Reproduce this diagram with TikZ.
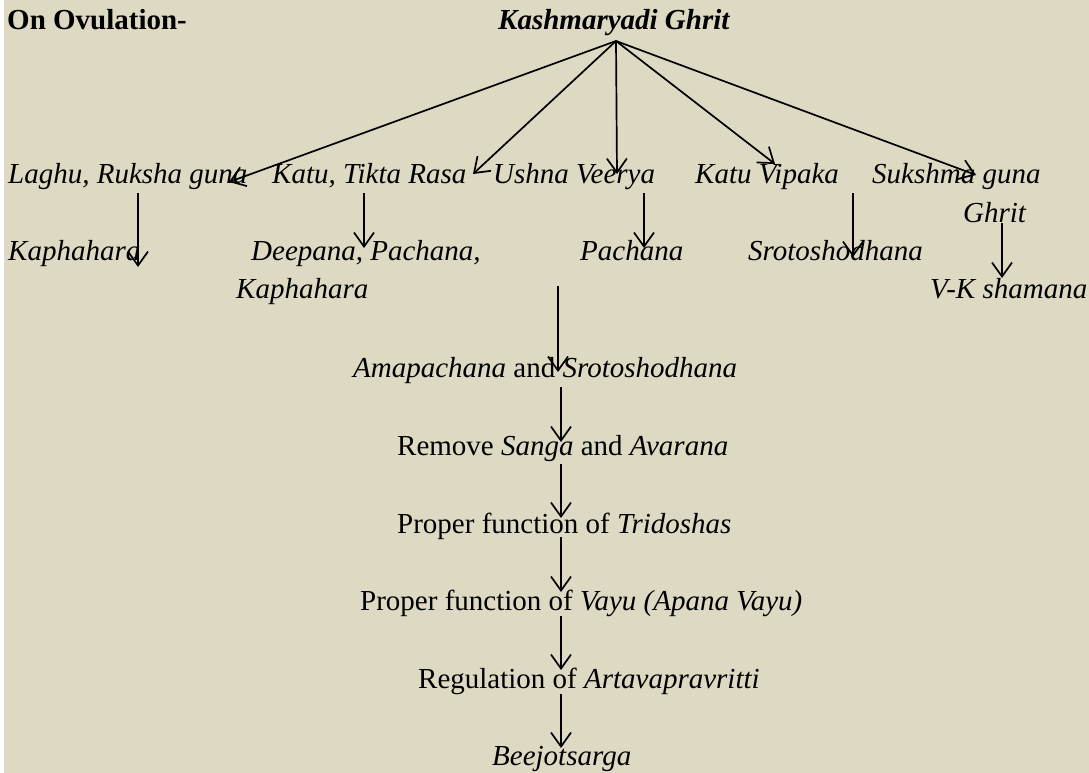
\documentclass[tikz,border=0pt]{standalone}
\usepackage{fontspec}
\setmainfont{Liberation Serif}
\usetikzlibrary{arrows.meta}
\definecolor{bgtan}{HTML}{DDD9C3}
\begin{document}
\begin{tikzpicture}[x=1pt,y=-1pt,
  txt/.style={anchor=base west,inner sep=0pt,font=\fontsize{29}{34}\selectfont\itshape},
  rtxt/.style={anchor=base west,inner sep=0pt,font=\fontsize{29}{34}\selectfont},
  conn/.style={line width=1.7pt,-{Straight Barb[length=14pt,width=20pt,line width=1.7pt]}}]
\useasboundingbox (0,0) rectangle (1089,773);
\fill[white] (0,0) rectangle (1089,773);
\fill[bgtan] (4,0) rectangle (1089,773);
% titles
\node[rtxt,font=\fontsize{29}{34}\selectfont\bfseries] (title) at (7,30) {On Ovulation-};
\node[txt,font=\fontsize{29}{34}\selectfont\bfseries\itshape] (kg) at (498,30) {Kashmaryadi Ghrit};
% row 1
\node[txt] (laghu) at (8,183) {Laghu, Ruksha guna};
\node[txt] (katu) at (272,183) {Katu, Tikta Rasa};
\node[txt] (ushna) at (493,183) {Ushna Veerya};
\node[txt] (vipaka) at (695,183) {Katu Vipaka};
\node[txt] (suk) at (872,183) {Sukshma guna};
\node[txt] (ghrit) at (963,222) {Ghrit};
% row 2
\node[txt] (kapha1) at (8,260) {Kaphahara};
\node[txt] (deep) at (251,260) {Deepana, Pachana,};
\node[txt] (kapha2) at (236,298) {Kaphahara};
\node[txt] (pach) at (580,260) {Pachana};
\node[txt] (sroto) at (748,260) {Srotoshodhana};
\node[txt] (vk) at (930,298) {V-K shamana};
% chain
\node[rtxt] (ama) at (353,377) {\textit{Amapachana} and \textit{Srotoshodhana}};
\node[rtxt] (rem) at (397,455) {Remove \textit{Sanga} and \textit{Avarana}};
\node[rtxt] (tri) at (397,533) {Proper function of \textit{Tridoshas}};
\node[rtxt] (vayu) at (360,610) {Proper function of \textit{Vayu (Apana Vayu)}};
\node[rtxt] (reg) at (418,688) {Regulation of \textit{Artavapravritti}};
\node[txt] (bee) at (492,765) {Beejotsarga};
% connector points
\coordinate (apex) at (616,41);
\coordinate (tLaghu) at (229,182);
\coordinate (tKatu) at (473,174);
\coordinate (tUshna) at (617,174);
\coordinate (tVip) at (775,164);
\coordinate (tSuk) at (976,175);
\draw[conn] (apex) -- (tLaghu);
\draw[conn] (apex) -- (tKatu);
\draw[conn] (apex) -- (tUshna);
\draw[conn] (apex) -- (tVip);
\draw[conn] (apex) -- (tSuk);
% second level
\coordinate (a1s) at (138,193); \coordinate (a1e) at (138,267);
\coordinate (a2s) at (364,193); \coordinate (a2e) at (364,248);
\coordinate (a3s) at (644,193); \coordinate (a3e) at (644,248);
\coordinate (a4s) at (853,193); \coordinate (a4e) at (853,257);
\coordinate (a5s) at (1002,223); \coordinate (a5e) at (1002,278);
\draw[conn] (a1s) -- (a1e);
\draw[conn] (a2s) -- (a2e);
\draw[conn] (a3s) -- (a3e);
\draw[conn] (a4s) -- (a4e);
\draw[conn] (a5s) -- (a5e);
% chain arrows
\coordinate (c0s) at (558,286); \coordinate (c0e) at (558,372);
\coordinate (c1s) at (561,387); \coordinate (c1e) at (561,442);
\coordinate (c2s) at (561,464); \coordinate (c2e) at (561,518);
\coordinate (c3s) at (561,537); \coordinate (c3e) at (561,592);
\coordinate (c4s) at (561,616); \coordinate (c4e) at (561,670);
\coordinate (c5s) at (561,694); \coordinate (c5e) at (561,748);
\draw[conn] (c0s) -- (c0e);
\draw[conn] (c1s) -- (c1e);
\draw[conn] (c2s) -- (c2e);
\draw[conn] (c3s) -- (c3e);
\draw[conn] (c4s) -- (c4e);
\draw[conn] (c5s) -- (c5e);
\end{tikzpicture}
\end{document}
